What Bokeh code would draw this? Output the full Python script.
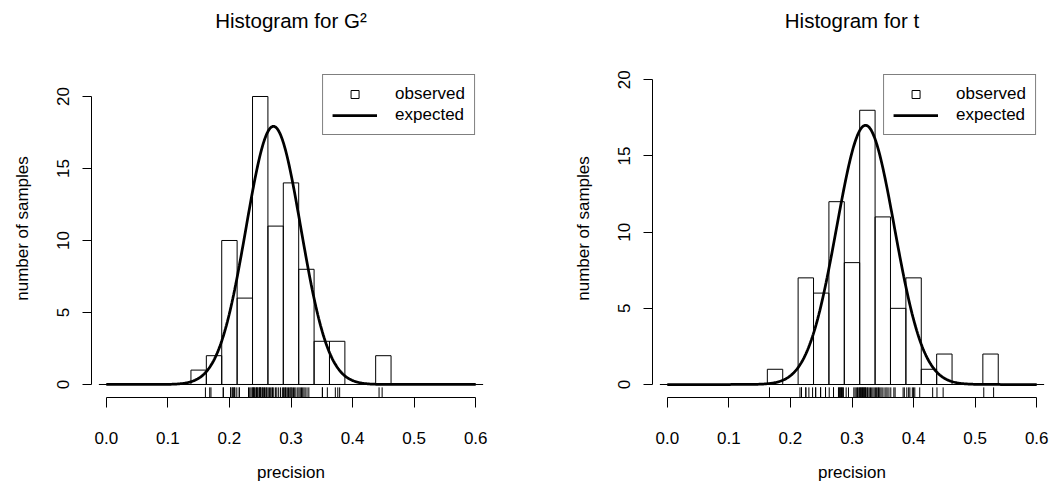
import numpy as np
from bokeh.plotting import figure
from bokeh.models import Range1d, FixedTicker, PrintfTickFormatter, Legend, LegendItem, ColumnDataSource
from bokeh.layouts import row
from bokeh.embed import file_html
from bokeh.resources import INLINE

# ---------------- data ----------------
bin_width = 0.025
n_samples = 80

g2_left_edges = [0.1375, 0.1625, 0.1875, 0.2125, 0.2375, 0.2625, 0.2875, 0.3125,
                 0.3375, 0.3625, 0.3875, 0.4125, 0.4375]
g2_counts = [1, 2, 10, 6, 20, 11, 14, 8, 3, 3, 0, 0, 2]

t_left_edges = [0.1625, 0.1875, 0.2125, 0.2375, 0.2625, 0.2875, 0.3125, 0.3375,
                0.3625, 0.3875, 0.4125, 0.4375, 0.4625, 0.4875, 0.5125]
t_counts = [1, 0, 7, 6, 12, 8, 18, 11, 5, 7, 1, 2, 0, 0, 2]

g2_rug = [0.161, 0.168, 0.170,
          0.190, 0.190, 0.202, 0.202, 0.2045, 0.206, 0.206, 0.2086, 0.2086, 0.212,
          0.216, 0.216, 0.231, 0.233, 0.235, 0.237,
          0.238, 0.239, 0.240, 0.241, 0.243, 0.244, 0.245, 0.246, 0.248, 0.249,
          0.250, 0.250, 0.251, 0.253, 0.254, 0.255, 0.257, 0.258, 0.260, 0.261,
          0.263, 0.265, 0.267, 0.269, 0.270, 0.272, 0.275, 0.277, 0.280, 0.283, 0.286,
          0.288, 0.289, 0.291, 0.292, 0.294, 0.296, 0.298, 0.300, 0.300, 0.302,
          0.304, 0.306, 0.308, 0.311,
          0.313, 0.315, 0.317, 0.319, 0.321, 0.323, 0.326, 0.329,
          0.351, 0.351, 0.359,
          0.372, 0.376, 0.379,
          0.443, 0.448]

t_rug = [0.166,
         0.2155, 0.218, 0.218, 0.225, 0.225, 0.230, 0.236,
         0.241, 0.241, 0.249, 0.249, 0.257, 0.257,
         0.263, 0.270, 0.270, 0.278, 0.279, 0.280, 0.281, 0.282, 0.283, 0.284, 0.285, 0.286,
         0.2905, 0.2943, 0.303, 0.305, 0.307, 0.309, 0.310, 0.312,
         0.313, 0.314, 0.315, 0.316, 0.317, 0.318, 0.319, 0.320, 0.321, 0.322, 0.323,
         0.325, 0.326, 0.328, 0.330, 0.332, 0.334, 0.336,
         0.338, 0.340, 0.342, 0.343, 0.345, 0.347, 0.349, 0.352, 0.355, 0.357, 0.360,
         0.363, 0.368, 0.370, 0.383, 0.385,
         0.389, 0.392, 0.394, 0.398, 0.400, 0.402, 0.410,
         0.431,
         0.438, 0.448,
         0.514, 0.530]

# fitted normal curves (mean, sd)
g2_mean, g2_sd = 0.2715, 0.0445
t_mean, t_sd = 0.322, 0.0469

x_ticks = [0.0, 0.1, 0.2, 0.3, 0.4, 0.5, 0.6]
y_ticks = [0, 5, 10, 15, 20]

FONT = "Liberation Sans"


def make_panel(title, left_edges, counts, rug, mu, sd, y_start, y_end,
               width, min_left, min_right):
    p = figure(width=width, height=487, output_backend="svg", toolbar_location=None,
               x_range=Range1d(-0.024, 0.624), y_range=Range1d(y_start, y_end),
               min_border_left=min_left, min_border_right=min_right,
               min_border_top=59, min_border_bottom=90,
               background_fill_color="white", border_fill_color="white")
    p.outline_line_color = None
    p.grid.visible = False

    # title
    p.title.text = title
    p.title.align = "center"
    p.title.text_font = FONT
    p.title.text_font_size = "20.5px"
    p.title.text_font_style = "normal"
    p.title.text_color = "black"
    p.title.standoff = 0
    try:
        p.title.padding = dict(left=0, right=0, top=0, bottom=28)
    except Exception:
        p.title.standoff = 10

    # histogram bars
    lefts = [e for e, c in zip(left_edges, counts) if c > 0]
    tops = [c for c in counts if c > 0]
    rights = [e + bin_width for e in lefts]
    src = ColumnDataSource(dict(left=lefts, right=rights, top=tops, bottom=[0] * len(tops)))
    p.quad(left="left", right="right", top="top", bottom="bottom", source=src,
           fill_color="white", fill_alpha=0.0, line_color="black", line_width=1)

    # thin baseline
    p.segment(x0=[-0.012], y0=[0], x1=[0.612], y1=[0], line_color="black", line_width=1)

    # expected curve
    xs = np.linspace(0.0, 0.6, 401)
    ys = n_samples * bin_width * np.exp(-0.5 * ((xs - mu) / sd) ** 2) / (sd * np.sqrt(2 * np.pi))
    curve = p.line(xs, ys, line_color="black", line_width=2.75)

    # rug
    rug_top = y_start + 0.03 * (y_end - y_start)
    p.segment(x0=rug, x1=rug, y0=[y_start] * len(rug), y1=[rug_top] * len(rug),
              line_color="black", line_width=1)

    # legend proxy for the "observed" square symbol (placed outside the visible frame)
    sq = p.scatter(x=[-1.0], y=[-100.0], marker="square", size=7, fill_color="white",
                   line_color="black", line_width=1)
    legend = Legend(items=[LegendItem(label="observed", renderers=[sq]),
                           LegendItem(label="expected", renderers=[curve])],
                    location="top_right", margin=15, padding=9,
                    glyph_width=45, glyph_height=20, label_height=20,
                    label_standoff=18, spacing=1,
                    border_line_color="black", border_line_width=1,
                    background_fill_color="white", background_fill_alpha=1.0,
                    label_text_font=FONT, label_text_font_size="17px",
                    label_text_color="black")
    p.add_layout(legend)

    # axes
    xa = p.xaxis[0]
    xa.ticker = FixedTicker(ticks=x_ticks)
    xa.formatter = PrintfTickFormatter(format="%.1f")
    xa.bounds = (0.0, 0.6)
    xa.minor_tick_line_color = None
    xa.major_tick_in = 0
    xa.major_tick_out = 10
    xa.major_label_standoff = 24
    xa.axis_label = "precision"
    xa.axis_label_standoff = 16

    ya = p.yaxis[0]
    ya.ticker = FixedTicker(ticks=y_ticks)
    ya.bounds = (0, 20)
    ya.minor_tick_line_color = None
    ya.major_tick_in = 0
    ya.major_tick_out = 9
    ya.major_label_standoff = 13
    ya.major_label_orientation = "vertical"
    ya.axis_label = "number of samples"
    ya.axis_label_standoff = 23

    for ax in (xa, ya):
        ax.axis_line_color = "black"
        ax.major_tick_line_color = "black"
        ax.major_label_text_font = FONT
        ax.major_label_text_font_size = "17px"
        ax.major_label_text_color = "black"
        ax.axis_label_text_font = FONT
        ax.axis_label_text_font_size = "17px"
        ax.axis_label_text_font_style = "normal"
        ax.axis_label_text_color = "black"
    return p


p1 = make_panel("Histogram for G\u00b2", g2_left_edges, g2_counts, g2_rug, g2_mean, g2_sd,
                -0.903, 22.569, 527, 91, 37)
p2 = make_panel("Histogram for t", t_left_edges, t_counts, t_rug, t_mean, t_sd,
                -0.853, 21.333, 527, 125, 3)

layout = row(p1, p2)
open("out.html", "w").write(file_html(layout, INLINE))
